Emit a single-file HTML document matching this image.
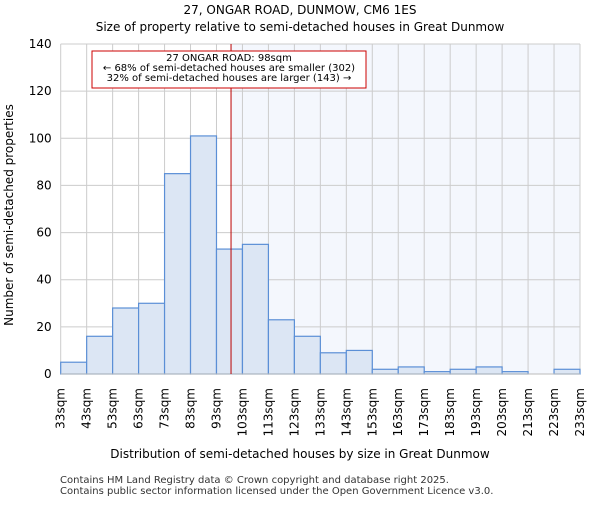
<!DOCTYPE html>
<html><head><meta charset="utf-8"><style>body{margin:0;background:#fff}svg{font-family:"DejaVu Sans","Liberation Sans",sans-serif}</style></head>
<body>
<svg width="600" height="500" xmlns="http://www.w3.org/2000/svg">
<text x="300" y="14" font-size="12" text-anchor="middle">27, ONGAR ROAD, DUNMOW, CM6 1ES</text>
<text x="300" y="31" font-size="12" text-anchor="middle">Size of property relative to semi-detached houses in Great Dunmow</text>
<g id="plot"></g>
<text x="300" y="458" font-size="12" text-anchor="middle">Distribution of semi-detached houses by size in Great Dunmow</text>
<text transform="translate(13,215) rotate(-90)" font-size="12" text-anchor="middle">Number of semi-detached properties</text>
<text x="60" y="483" font-size="10" fill="#333">Contains HM Land Registry data © Crown copyright and database right 2025.</text>
<text x="60" y="494" font-size="10" fill="#333">Contains public sector information licensed under the Open Government Licence v3.0.</text>
</svg>
<script>
const binStarts=[33,43,53,63,73,83,93,103,113,123,133,143,153,163,173,183,193,203,213,223];
const counts=[5,16,28,30,85,101,53,55,23,16,9,10,2,3,1,2,3,1,0,2];
const yTicks=[0,20,40,60,80,100,120,140];
const xTickLabels=["33sqm","43sqm","53sqm","63sqm","73sqm","83sqm","93sqm","103sqm","113sqm","123sqm","133sqm","143sqm","153sqm","163sqm","173sqm","183sqm","193sqm","203sqm","213sqm","223sqm","233sqm"];
const subjectSize=98.6;
const L=60.7,R=580,T=44,B=374,xMin=33,xMax=233,yMax=140;
const xs=v=>L+(v-xMin)/(xMax-xMin)*(R-L);
const ys=v=>B-v/yMax*(B-T);
const NS="http://www.w3.org/2000/svg";
const g=document.getElementById('plot');
function mk(t,a){const e=document.createElementNS(NS,t);for(const k in a)e.setAttribute(k,a[k]);g.appendChild(e);return e;}
let e=mk('rect',{x:xs(subjectSize),y:T,width:R-xs(subjectSize),height:B-T,fill:'#f4f7fd'});


xTickLabels.forEach((lab,i)=>{const v=xMin+i*10;const x=xs(v);
 let l=mk('line',{x1:x,x2:x,y1:T,y2:B,stroke:'#ccc'});
 
 
 let t=mk('text',{transform:`translate(${x+4},${B+14}) rotate(-90)`,'font-size':'12','text-anchor':'end'});
 t.textContent=lab;
 
 
});
yTicks.forEach(v=>{const y=ys(v);
 let l=mk('line',{x1:L,x2:R,y1:y,y2:y,stroke:'#ccc'});
 
 
 let t=mk('text',{x:L-9,y:y+4,'font-size':'12','text-anchor':'end'});
 t.textContent=v;
 
 
});
binStarts.forEach((s,i)=>{const x0=xs(s),x1=xs(s+10);
 let r=mk('rect',{x:x0,y:ys(counts[i]),width:x1-x0,height:B-ys(counts[i]),fill:'#dce6f4',stroke:'#5b8fd6','stroke-width':'1.2'});
 
 
});
let ax=mk('line',{x1:L,x2:R,y1:B,y2:B,stroke:'#bbb'});


let vl=mk('line',{x1:xs(subjectSize),x2:xs(subjectSize),y1:T,y2:B,stroke:'#b00','stroke-width':'1'});


let box=mk('rect',{x:92,y:51,width:274,height:37,fill:'#fff',stroke:'#c00'});


["27 ONGAR ROAD: 98sqm","← 68% of semi-detached houses are smaller (302)","32% of semi-detached houses are larger (143) →"].forEach((s,i)=>{
 let t=mk('text',{x:229,y:61+i*10,'font-size':'10','text-anchor':'middle'});
 t.textContent=s;
 
 
});
</script>
</body></html>
